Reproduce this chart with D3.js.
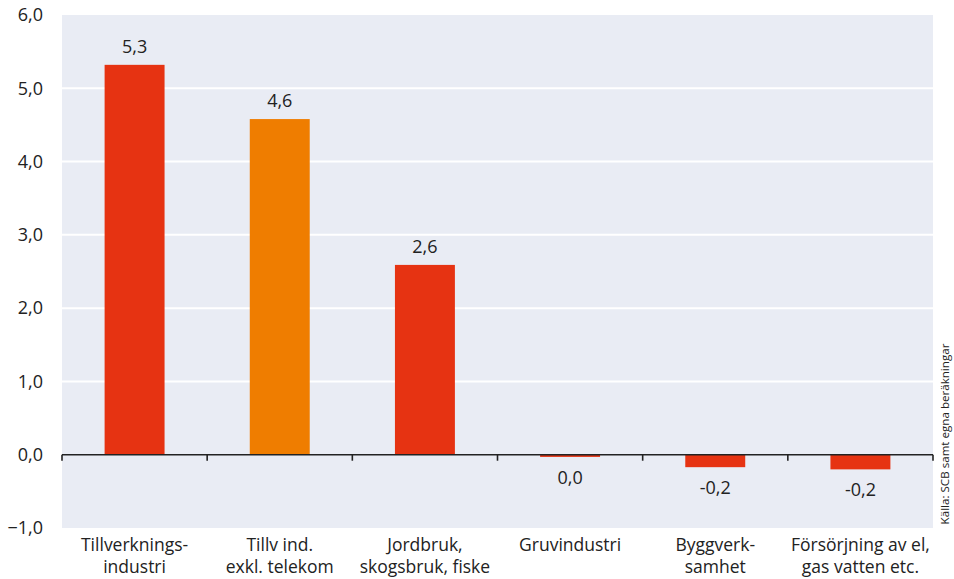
<!DOCTYPE html>
<html><head><meta charset="utf-8">
<script src="https://cdn.jsdelivr.net/npm/d3@7"></script>
<style>body{margin:0;background:#fff;} text{font-family:"Open Sans",sans-serif;fill:#222;}</style>
</head><body><svg id="c" width="954" height="579"></svg>
<script>
const categories = [["Tillverknings-","industri"],["Tillv ind.","exkl. telekom"],["Jordbruk,","skogsbruk, fiske"],["Gruvindustri"],["Byggverk-","samhet"],["Försörjning av el,","gas vatten etc."]];
const values = [5.32, 4.58, 2.59, -0.03, -0.17, -0.2];
const valueLabels = ["5,3","4,6","2,6","0,0","-0,2","-0,2"];
const barColors = ["#e63312","#ef7d00","#e63312","#e63312","#e63312","#e63312"];
const yTicks = [-1,0,1,2,3,4,5,6];
const source = "Källa: SCB samt egna beräkningar";

const svg = d3.select("#c");
const L=62, R=933, T=15, B=528;
const x = d3.scaleBand().domain(d3.range(categories.length)).range([L,R]).paddingInner(0.587).paddingOuter(0.2935);
const y = d3.scaleLinear().domain([-1,6]).range([B,T]);

svg.append("rect").attr("x",L).attr("y",T).attr("width",R-L).attr("height",B-T).attr("fill","#e9ecf4");
svg.append("g").selectAll("line").data(yTicks.filter(d=>d!==0&&d!==-1&&d!==6)).join("line")
  .attr("x1",L).attr("x2",R).attr("y1",d=>y(d)).attr("y2",d=>y(d)).attr("stroke","#fff").attr("stroke-width",2);

svg.append("g").selectAll("text").data(yTicks).join("text")
  .attr("x",43).attr("y",d=>y(d)).attr("dy","0.35em").attr("text-anchor","end")
  .attr("font-size",18).text(d=>d3.format(".1f")(d).replace(".",","));

svg.append("g").selectAll("rect").data(values).join("rect")
  .attr("x",(d,i)=>x(i)).attr("width",x.bandwidth())
  .attr("y",d=>y(Math.max(0,d))).attr("height",d=>Math.abs(y(d)-y(0)))
  .attr("fill",(d,i)=>barColors[i]);

svg.append("g").selectAll("text").data(values).join("text")
  .attr("x",(d,i)=>x(i)+x.bandwidth()/2)
  .attr("y",d=> d>=0 ? y(d)-12 : y(d)+27)
  .attr("text-anchor","middle").attr("font-size",18).text((d,i)=>valueLabels[i]);

// zero axis
const step = x.step();
svg.append("line").attr("x1",L).attr("x2",R).attr("y1",y(0)).attr("y2",y(0)).attr("stroke","#222").attr("stroke-width",1.6);
svg.append("g").selectAll("line").data(d3.range(categories.length+1)).join("line")
  .attr("x1",i=>L+i*step).attr("x2",i=>L+i*step).attr("y1",y(0)).attr("y2",y(0)+6)
  .attr("stroke","#222").attr("stroke-width",1.6);

const cl = svg.append("g").selectAll("text").data(categories).join("text")
  .attr("text-anchor","middle").attr("font-size",17.5);
cl.each(function(lines,i){
  d3.select(this).selectAll("tspan").data(lines).join("tspan")
    .attr("x",x(i)+x.bandwidth()/2).attr("y",(d,j)=>551+j*22).text(d=>d);
});

svg.append("text").attr("transform","translate(949,434) rotate(-90)").attr("text-anchor","middle")
  .attr("font-size",11.6).text(source);
</script></body></html>
